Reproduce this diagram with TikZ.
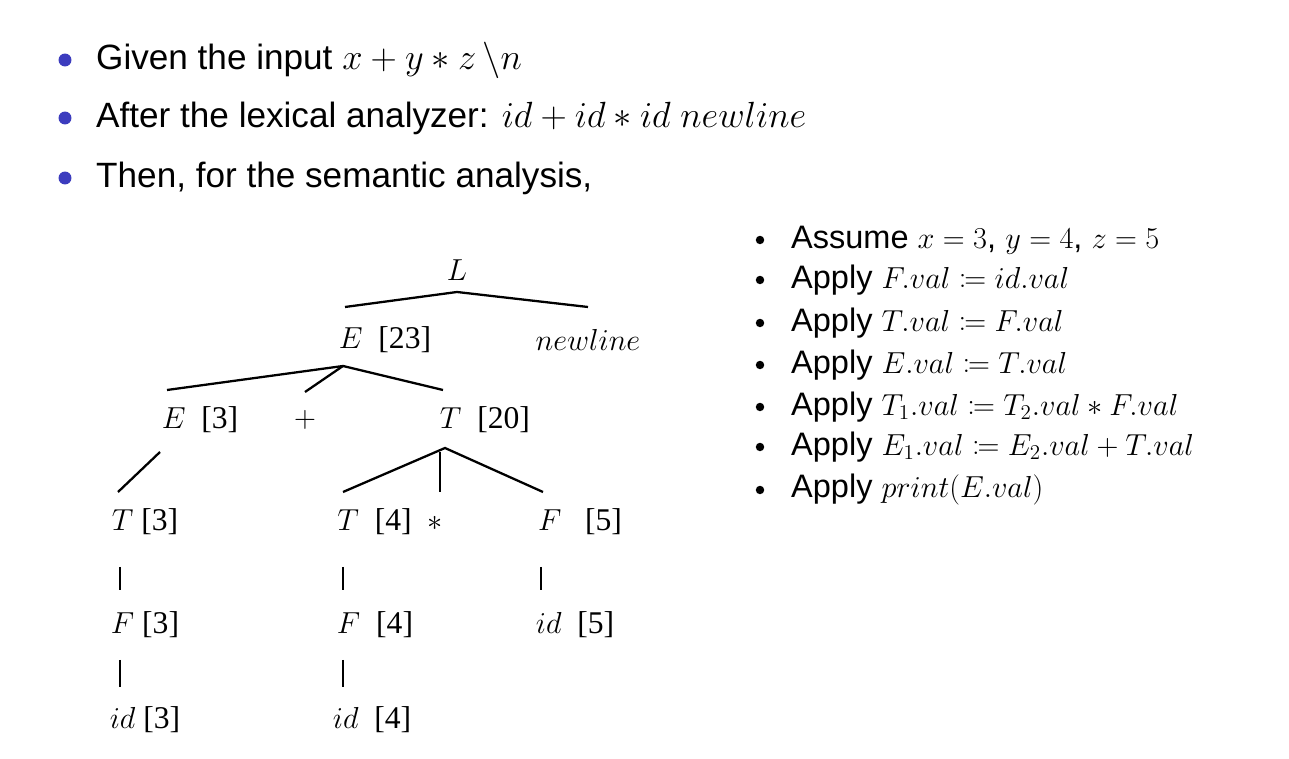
\documentclass[tikz,border=0pt]{standalone}
\usepackage{fontspec}
\setmainfont{Liberation Serif}
\setsansfont{Liberation Sans}
\usepackage{amsmath,mathtools}
\definecolor{bul}{RGB}{60,60,190}
\begin{document}
\begin{tikzpicture}[x=0.02cm,y=-0.02cm,
  top/.style={anchor=west,font=\sffamily\fontsize{20}{24}\selectfont},
  rt/.style={anchor=west,font=\sffamily\fontsize{18.5}{22}\selectfont},
  tn/.style={font=\fontsize{18}{21}\selectfont},
  edge/.style={line width=1.3pt}]
\useasboundingbox (0,0) rectangle (1289,759);
\foreach \y/\t [count=\i] in {60/{Given the input $x+y*z\,\backslash n$},118/{After the lexical analyzer: $id+id*id\ newline$},178/{Then, for the semantic analysis,}}{
  \node[circle,fill=bul,inner sep=2.6pt] (b\i) at (65,\y) {};
  \node[top] (t\i) at (90,\y) {\t};
}
\foreach \y/\t [count=\i] in {240/{Assume $x=3$, $y=4$, $z=5$},280/{Apply $F.val\coloneqq id.val$},323/{Apply $T.val\coloneqq F.val$},365/{Apply $E.val\coloneqq T.val$},407/{Apply $T_1.val\coloneqq T_2.val*F.val$},447/{Apply $E_1.val\coloneqq E_2.val+T.val$},490/{Apply $print(E.val)$}}{
  \node[circle,fill=black,inner sep=1.7pt] (c\i) at (760,\y) {};
  \node[rt] (r\i) at (785,\y) {\t};
}
\node[tn] (L) at (457,270) {$L$};
\node[tn] (E23) at (385,340) {$E$\ \ [23]};
\node[tn] (nl) at (588,340) {$newline$};
\node[tn] (E3) at (200,420) {$E$\ \ [3]};
\node[tn] (pl) at (305,420) {$+$};
\node[tn] (T20) at (485,420) {$T$\ \ [20]};
\node[tn] (T3) at (145,522) {$T$ [3]};
\node[tn] (T4) at (390,522) {$T$\ \ [4]\ \ $*$};
\node[tn] (F5) at (580,522) {$F$\ \ \ [5]};
\node[tn] (F3) at (145,625) {$F$ [3]};
\node[tn] (F4) at (375,625) {$F$\ \ [4]};
\node[tn] (id5) at (575,625) {$id$\ \ [5]};
\node[tn] (id3) at (145,720) {$id$ [3]};
\node[tn] (id4) at (372,720) {$id$\ \ [4]};
\coordinate (l0) at (457,292);
\draw[edge] (345,307) -- (l0) -- (588,307);
\coordinate (e0) at (343,366);
\draw[edge] (167,390) -- (e0) -- (443,390);
\draw[edge] (e0) -- (305,392);
\draw[edge] (160,452) -- (118,492);
\coordinate (t0) at (445,448);
\draw[edge] (343,492) -- (t0) -- (543,492);
\draw[edge] (440,452) -- (440,492);
\draw[edge] (120,567) -- (120,590);
\draw[edge] (120,660) -- (120,687);
\draw[edge] (343,567) -- (343,590);
\draw[edge] (343,660) -- (343,687);
\draw[edge] (541,567) -- (541,590);
\end{tikzpicture}
\end{document}
